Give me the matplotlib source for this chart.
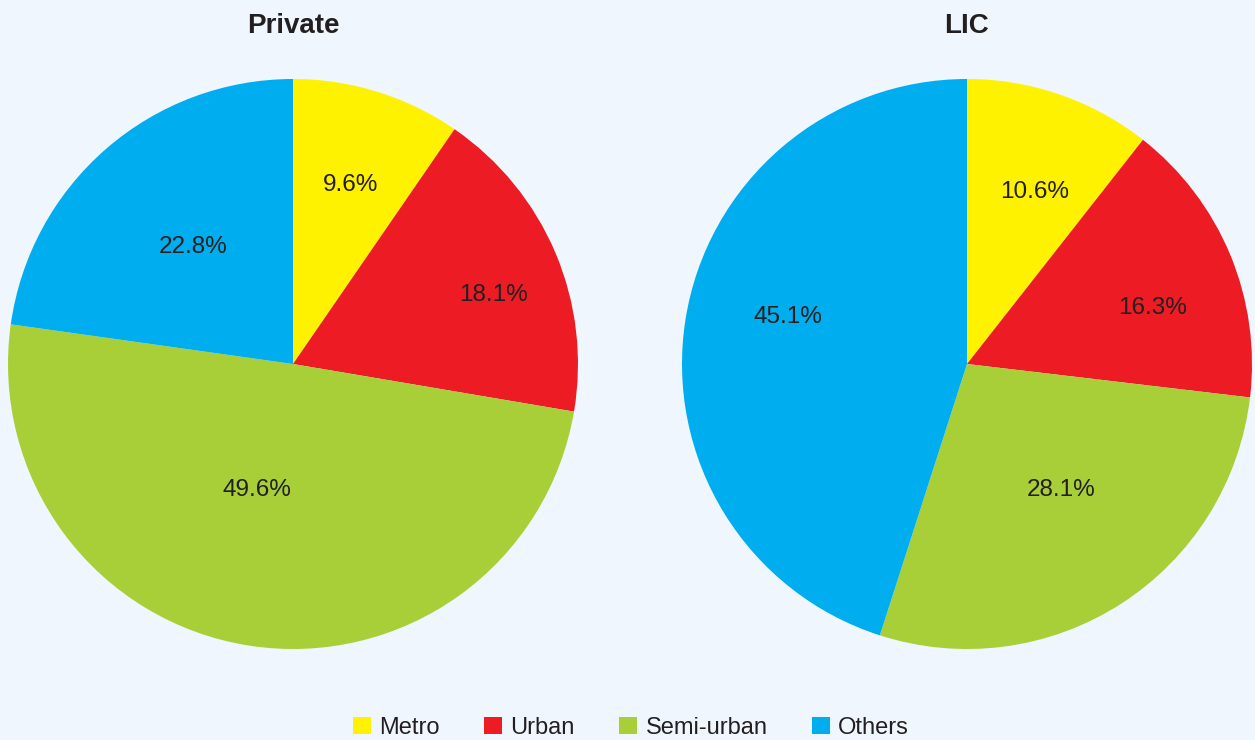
import numpy as np
import matplotlib.pyplot as plt
from matplotlib.patches import Patch

plt.rcParams['font.family'] = ['Liberation Sans', 'DejaVu Sans']

# data
categories = ["Metro", "Urban", "Semi-urban", "Others"]
private = [9.6, 18.1, 49.6, 22.8]
lic = [10.6, 16.3, 28.1, 45.1]
titles = ["Private", "LIC"]
colors = ["#FFF200", "#ED1C24", "#A8CF38", "#00AEEF"]
bg = "#EFF6FD"

# label placement: distance from centre (fraction of radius) and angle nudge (deg)
label_dist = [[0.66, 0.745, 0.46, 0.54],
              [0.65, 0.68, 0.55, 0.65]]
label_nudge = [[-0.4, -4.0, -7.0, -0.5],
               [-2.4, -5.8, 4.0, -5.8]]

W, H = 1255, 740
fig = plt.figure(figsize=(W / 100, H / 100), dpi=100, facecolor=bg)

R = 285
centres = [(293, 364), (967, 364)]

for k, (vals, title) in enumerate(zip([private, lic], titles)):
    cx, cy = centres[k]
    ax = fig.add_axes([(cx - R) / W, (H - cy - R) / H, 2 * R / W, 2 * R / H])
    ax.set_facecolor(bg)
    wedges, _ = ax.pie(vals, colors=colors, startangle=90, counterclock=False,
                       radius=1, wedgeprops=dict(linewidth=0))
    for w, v, d, n in zip(wedges, vals, label_dist[k], label_nudge[k]):
        ang = np.deg2rad((w.theta1 + w.theta2) / 2 + n)
        ax.text(d * np.cos(ang), d * np.sin(ang), "%.1f%%" % v,
                ha="center", va="center", fontsize=17.5, color="#231F20")
    ax.set_xlim(-1, 1)
    ax.set_ylim(-1, 1)
    ax.set_aspect("equal")
    ax.axis("off")
    fig.text(cx / W, 1 - 26 / H, title, ha="center", va="center",
             fontsize=20, fontweight="bold", color="#231F20")

handles = [Patch(facecolor=c, edgecolor="none", label=l) for c, l in zip(colors, categories)]
leg = fig.legend(handles=handles, loc="center", bbox_to_anchor=(631 / W, 1 - 728 / H),
                 ncol=4, frameon=False, fontsize=17, handlelength=0.75, handleheight=0.75,
                 handletextpad=0.35, columnspacing=1.9)
for t in leg.get_texts():
    t.set_color("#231F20")

fig.savefig("out.png", dpi=100, facecolor=bg)
